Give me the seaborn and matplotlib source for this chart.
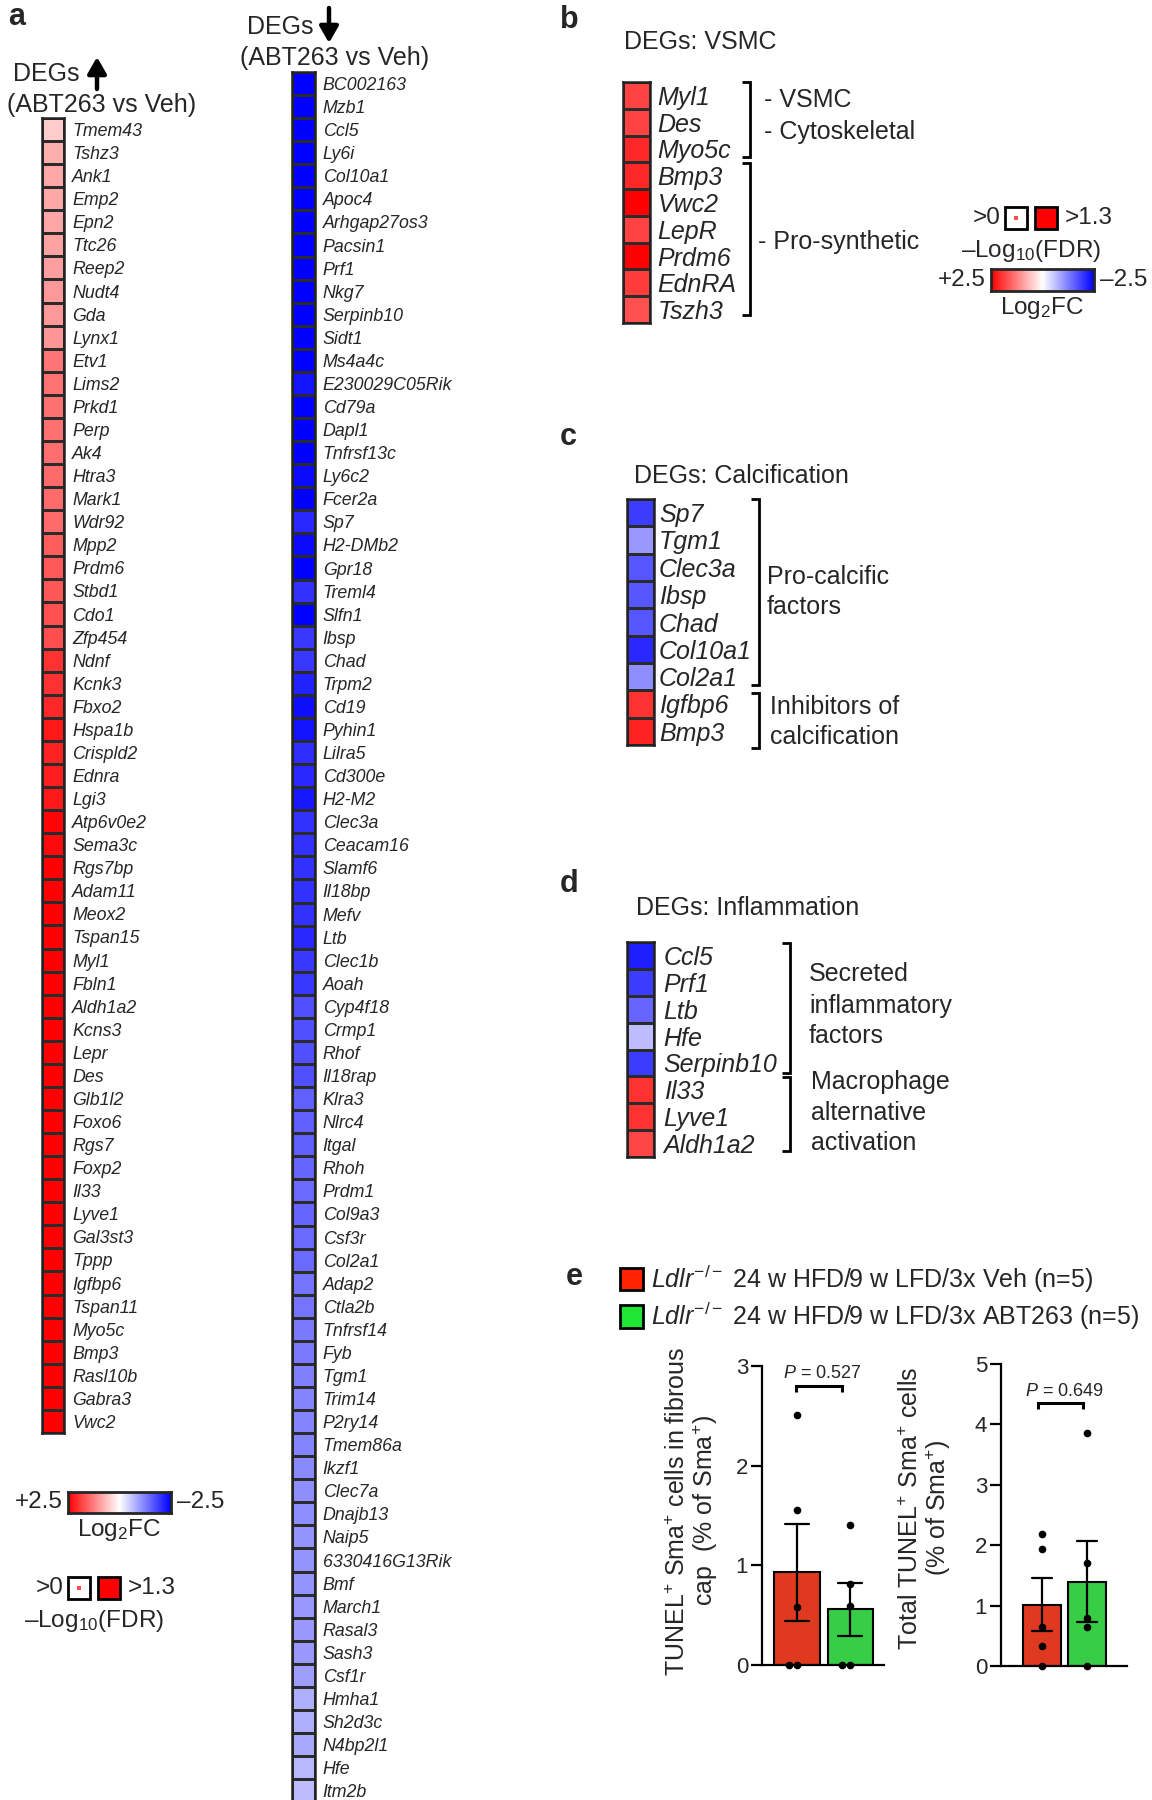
import numpy as np
import pandas as pd
import seaborn as sns
import matplotlib.pyplot as plt
from matplotlib.lines import Line2D
from matplotlib.patches import Rectangle, FancyArrowPatch

W, H = 1152, 1800

# panel a - DEGs up (log2FC, ABT263 vs Veh)
up_genes = ['Tmem43', 'Tshz3', 'Ank1', 'Emp2', 'Epn2', 'Ttc26', 'Reep2', 'Nudt4', 'Gda', 'Lynx1',
            'Etv1', 'Lims2', 'Prkd1', 'Perp', 'Ak4', 'Htra3', 'Mark1', 'Wdr92', 'Mpp2', 'Prdm6',
            'Stbd1', 'Cdo1', 'Zfp454', 'Ndnf', 'Kcnk3', 'Fbxo2', 'Hspa1b', 'Crispld2', 'Ednra', 'Lgi3',
            'Atp6v0e2', 'Sema3c', 'Rgs7bp', 'Adam11', 'Meox2', 'Tspan15', 'Myl1', 'Fbln1', 'Aldh1a2', 'Kcns3',
            'Lepr', 'Des', 'Glb1l2', 'Foxo6', 'Rgs7', 'Foxp2', 'Il33', 'Lyve1', 'Gal3st3', 'Tppp',
            'Igfbp6', 'Tspan11', 'Myo5c', 'Bmp3', 'Rasl10b', 'Gabra3', 'Vwc2']
up_fc = [0.50, 0.80, 0.85, 0.85, 0.87, 0.90, 0.95, 1.00, 1.00, 1.02,
         1.35, 1.38, 1.40, 1.40, 1.42, 1.45, 1.45, 1.45, 1.60, 1.63,
         1.65, 1.70, 1.72, 2.00, 2.00, 2.10, 2.25, 2.15, 2.20, 2.25,
         2.45, 2.40, 2.50, 2.50, 2.50, 2.50, 2.50, 2.50, 2.50, 2.50,
         2.50, 2.50, 2.50, 2.50, 2.50, 2.50, 2.50, 2.50, 2.50, 2.50,
         2.50, 2.50, 2.50, 2.50, 2.50, 2.50, 2.50]

# panel a - DEGs down
down_genes = ['BC002163', 'Mzb1', 'Ccl5', 'Ly6i', 'Col10a1', 'Apoc4', 'Arhgap27os3', 'Pacsin1', 'Prf1', 'Nkg7',
              'Serpinb10', 'Sidt1', 'Ms4a4c', 'E230029C05Rik', 'Cd79a', 'Dapl1', 'Tnfrsf13c', 'Ly6c2', 'Fcer2a', 'Sp7',
              'H2-DMb2', 'Gpr18', 'Treml4', 'Slfn1', 'Ibsp', 'Chad', 'Trpm2', 'Cd19', 'Pyhin1', 'Lilra5',
              'Cd300e', 'H2-M2', 'Clec3a', 'Ceacam16', 'Slamf6', 'Il18bp', 'Mefv', 'Ltb', 'Clec1b', 'Aoah',
              'Cyp4f18', 'Crmp1', 'Rhof', 'Il18rap', 'Klra3', 'Nlrc4', 'Itgal', 'Rhoh', 'Prdm1', 'Col9a3',
              'Csf3r', 'Col2a1', 'Adap2', 'Ctla2b', 'Tnfrsf14', 'Fyb', 'Tgm1', 'Trim14', 'P2ry14', 'Tmem86a',
              'Ikzf1', 'Clec7a', 'Dnajb13', 'Naip5', '6330416G13Rik', 'Bmf', 'March1', 'Rasal3', 'Sash3', 'Csf1r',
              'Hmha1', 'Sh2d3c', 'N4bp2l1', 'Hfe', 'Itm2b']
down_fc = [-2.50, -2.50, -2.50, -2.50, -2.50, -2.50, -2.50, -2.50, -2.50, -2.50,
           -2.50, -2.50, -2.50, -2.30, -2.50, -2.50, -2.50, -2.40, -2.50, -2.10,
           -2.40, -2.50, -2.00, -2.50, -1.95, -1.95, -2.15, -2.35, -2.30, -2.05,
           -2.10, -2.25, -2.00, -2.00, -2.00, -2.00, -2.00, -2.10, -1.95, -1.95,
           -1.70, -1.70, -1.70, -1.70, -1.55, -1.55, -1.55, -1.50, -1.45, -1.50,
           -1.45, -1.45, -1.35, -1.35, -1.30, -1.30, -1.25, -1.20, -1.20, -1.20,
           -1.15, -1.10, -1.10, -1.05, -1.05, -1.05, -1.00, -1.00, -1.00, -0.95,
           -0.80, -0.80, -0.85, -0.70, -0.65]

# panels b, c, d
vsmc_genes = ['Myl1', 'Des', 'Myo5c', 'Bmp3', 'Vwc2', 'LepR', 'Prdm6', 'EdnRA', 'Tszh3']
vsmc_fc = [1.85, 1.85, 2.10, 2.10, 2.50, 1.85, 2.50, 1.90, 1.70]
calc_genes = ['Sp7', 'Tgm1', 'Clec3a', 'Ibsp', 'Chad', 'Col10a1', 'Col2a1', 'Igfbp6', 'Bmp3']
calc_fc = [-1.90, -1.00, -1.65, -1.65, -1.65, -2.10, -1.10, 2.00, 2.15]
infl_genes = ['Ccl5', 'Prf1', 'Ltb', 'Hfe', 'Serpinb10', 'Il33', 'Lyve1', 'Aldh1a2']
infl_fc = [-2.20, -1.90, -1.50, -0.65, -1.90, 2.00, 2.00, 1.80]

# panel e - per-mouse values (% of Sma+)
groups = ['Veh', 'ABT263']
cap_veh = [2.51, 1.56, 0.58, 0.0, 0.0]
cap_abt = [1.40, 0.81, 0.59, 0.0, 0.0]
tot_veh = [2.18, 1.93, 0.65, 0.33, 0.0]
tot_abt = [3.85, 1.70, 0.79, 0.65, 0.0]
bar_colors = {'Veh': '#ff2200', 'ABT263': '#1ee632'}

sns.set_style('white')
plt.rcParams['font.family'] = ['Liberation Sans', 'DejaVu Sans']
plt.rcParams['mathtext.fontset'] = 'custom'
plt.rcParams['mathtext.rm'] = 'Liberation Sans'
plt.rcParams['mathtext.it'] = 'Liberation Sans:italic'
plt.rcParams['mathtext.bf'] = 'Liberation Sans:bold'

fig = plt.figure(figsize=(W / 100, H / 100), dpi=100)

FS = 18  # text size of panels b-e


def px_ax(x0, y0, x1, y1):  # axes from pixel box (top-left origin)
    return fig.add_axes([x0 / W, 1 - y1 / H, (x1 - x0) / W, (y1 - y0) / H])


def ftext(x, y, s, **kw):
    kw.setdefault('va', 'center')
    fig.text(x / W, 1 - y / H, s, **kw)


def fline(xs, ys, lw=1.8):
    fig.add_artist(Line2D([x / W for x in xs], [1 - y / H for y in ys], color='k', lw=lw,
                          solid_joinstyle='miter', solid_capstyle='butt'))


def frect(x0, y0, x1, y1, fc, lw=2.0, ec='k'):
    fig.add_artist(Rectangle((x0 / W, 1 - y1 / H), (x1 - x0) / W, (y1 - y0) / H,
                             transform=fig.transFigure, fc=fc, ec=ec, lw=lw))


def arrow(x, y_tail, y_tip):
    fig.add_artist(FancyArrowPatch((x / W, 1 - y_tail / H), (x / W, 1 - y_tip / H),
                                   transform=fig.transFigure, color='k', lw=3.2,
                                   arrowstyle='-|>,head_length=0.7,head_width=0.4',
                                   mutation_scale=14, shrinkA=0, shrinkB=0))


def heat(genes, fc, box, fs, pad):
    ax = px_ax(*box)
    df = pd.DataFrame({'log2FC': fc}, index=genes)
    sns.heatmap(df, ax=ax, cmap='bwr', vmin=-2.5, vmax=2.5, cbar=False,
                linewidths=1.0, linecolor='#2b2b2b', xticklabels=False, yticklabels=True)
    ax.yaxis.tick_right()
    ax.tick_params(axis='y', length=0, pad=pad, labelsize=fs, labelrotation=0)
    for t in ax.get_yticklabels():
        t.set_style('italic')
    for s in ax.spines.values():
        s.set_visible(True)
        s.set_linewidth(1.8)
        s.set_color('#222222')
    ax.set_xlabel('')
    ax.set_ylabel('')
    return ax


def fc_legend(x0, y0, x1, y1, fs):
    ax = px_ax(x0, y0, x1, y1)
    ax.imshow(np.linspace(2.5, -2.5, 256)[None, :], cmap='bwr', vmin=-2.5, vmax=2.5, aspect='auto')
    ax.set_xticks([])
    ax.set_yticks([])
    for s in ax.spines.values():
        s.set_linewidth(2.0)
    ym = (y0 + y1) / 2
    ftext(x0 - 5, ym, '+2.5', ha='right', fontsize=fs)
    ftext(x1 + 6, ym, '\u20132.5', ha='left', fontsize=fs)
    ftext((x0 + x1) / 2, y1 + 17, 'Log$_2$FC', ha='center', fontsize=fs)


def fdr_legend(bx, y0, size, gap, fs):
    y1 = y0 + size
    frect(bx, y0, bx + size, y1, 'white')
    c = bx + size / 2
    frect(c - 2, y0 + size / 2 - 2, c + 2, y0 + size / 2 + 2, '#ff5050', lw=0, ec='none')
    frect(bx + size + gap, y0, bx + 2 * size + gap, y1, '#ff0000')
    ftext(bx - 4, (y0 + y1) / 2, '>0', ha='right', fontsize=fs)
    ftext(bx + 2 * size + gap + 8, (y0 + y1) / 2, '>1.3', ha='left', fontsize=fs)
    ftext(bx + size + gap / 2, y1 + 22, '\u2013Log$_{10}$(FDR)', ha='center', fontsize=fs)


def bracket(x, y0, y1, tick=8, lw=2.0):
    fline([x - tick, x, x, x - tick], [y0, y0, y1, y1], lw)


def bar_panel(box, veh, abt, ymax, xlim):
    ax = px_ax(*box)
    df = pd.DataFrame({'group': ['Veh'] * len(veh) + ['ABT263'] * len(abt),
                       'value': veh + abt})
    sns.barplot(data=df, x='group', y='value', hue='group', order=groups, hue_order=groups,
                palette=bar_colors, errorbar='se', capsize=0.45, width=0.85,
                edgecolor='k', linewidth=1.5, err_kws={'color': 'k', 'linewidth': 1.6},
                legend=False, ax=ax)
    sns.swarmplot(data=df, x='group', y='value', order=groups, color='k', size=5.5,
                  ax=ax, clip_on=False, zorder=5)
    ax.set_xlim(*xlim)
    ax.set_ylim(0, ymax)
    ax.set_yticks(range(ymax + 1))
    ax.set_xticks([])
    ax.set_xlabel('')
    ax.set_ylabel('')
    sns.despine(ax=ax)
    for s in ['left', 'bottom']:
        ax.spines[s].set_linewidth(1.6)
        ax.spines[s].set_color('k')
    ax.tick_params(axis='y', left=True, length=8, width=1.6, pad=2, labelsize=16, color='k')
    ax.patch.set_alpha(0)
    return ax


# ---------------- panel a ----------------
ftext(8, 25, 'a', fontsize=22, fontweight='bold', va='baseline')
ftext(13, 74, 'DEGs', fontsize=18)
arrow(97, 89, 57)
ftext(7, 105, '(ABT263 vs Veh)', fontsize=18)
ftext(247, 27, 'DEGs', fontsize=18)
arrow(329, 8, 43)
ftext(240, 58, '(ABT263 vs Veh)', fontsize=18)

heat(up_genes, up_fc, (42, 118, 64, 118 + 23.07 * len(up_genes)), 12.8, 6)
heat(down_genes, down_fc, (292, 72, 315, 72 + 23.07 * len(down_genes)), 12.8, 5.5)

fc_legend(68, 1492, 171, 1513, 17.5)
fdr_legend(68, 1577, 22, 8, 17.5)

# ---------------- panel b ----------------
ftext(560, 28, 'b', fontsize=22, fontweight='bold', va='baseline')
ftext(624, 42, 'DEGs: VSMC', fontsize=FS)
heat(vsmc_genes, vsmc_fc, (623, 82, 650, 323), FS, 5.5)
bracket(750, 82, 157)
bracket(750, 163, 315)
ftext(764, 100, '- VSMC', fontsize=FS)
ftext(764, 132, '- Cytoskeletal', fontsize=FS)
ftext(758, 242, '- Pro-synthetic', fontsize=FS)
fdr_legend(1005, 207, 22, 8, 17.5)
fc_legend(991, 269, 1094, 291, 17.5)

# ---------------- panel c ----------------
ftext(560, 445, 'c', fontsize=22, fontweight='bold', va='baseline')
ftext(634, 476, 'DEGs: Calcification', fontsize=FS)
heat(calc_genes, calc_fc, (627, 499, 654, 745), FS, 3.5)
bracket(759, 499, 685)
bracket(759, 693, 748)
ftext(767, 577, 'Pro-calcific', fontsize=FS)
ftext(767, 607, 'factors', fontsize=FS)
ftext(770, 707, 'Inhibitors of', fontsize=FS)
ftext(770, 737, 'calcification', fontsize=FS)

# ---------------- panel d ----------------
ftext(560, 892, 'd', fontsize=22, fontweight='bold', va='baseline')
ftext(636, 908, 'DEGs: Inflammation', fontsize=FS)
heat(infl_genes, infl_fc, (627, 942, 654, 1157), FS, 7)
bracket(790, 943, 1073)
bracket(790, 1077, 1151)
for yy, s in zip([974, 1006, 1036], ['Secreted', 'inflammatory', 'factors']):
    ftext(809, yy, s, fontsize=FS)
for yy, s in zip([1082, 1113, 1143], ['Macrophage', 'alternative', 'activation']):
    ftext(811, yy, s, fontsize=FS)

# ---------------- panel e ----------------
ftext(566, 1285, 'e', fontsize=22, fontweight='bold', va='baseline')
frect(620, 1268, 643, 1290, bar_colors['Veh'])
frect(620, 1305, 643, 1328, bar_colors['ABT263'])
ftext(651, 1279, r'$\mathit{Ldlr}^{\mathregular{-/-}}$' + ' 24 w HFD/9 w LFD/3x Veh (n=5)', fontsize=FS)
ftext(651, 1316, r'$\mathit{Ldlr}^{\mathregular{-/-}}$' + ' 24 w HFD/9 w LFD/3x ABT263 (n=5)', fontsize=FS)

bar_panel((762, 1366, 884, 1665), cap_veh, cap_abt, 3, (-0.66, 1.64))
ftext(693, 1511, r'$\mathregular{TUNEL^{+}\ Sma^{+}}$ cells in fibrous' + '\n' +
      r'cap  (% of $\mathregular{Sma^{+}}$)', fontsize=FS,
      rotation=90, ha='center', multialignment='center', linespacing=1.05)
fline([796, 796, 842, 842], [1392, 1386, 1386, 1392], lw=2.2)
ftext(822, 1374, r'$\mathit{P}$ = 0.527', ha='center', fontsize=13)

bar_panel((1001, 1364, 1127, 1666), tot_veh, tot_abt, 5, (-0.91, 1.89))
ftext(926, 1508, r'Total $\mathregular{TUNEL^{+}\ Sma^{+}}$ cells' + '\n' +
      r'(% of $\mathregular{Sma^{+}}$)', fontsize=FS,
      rotation=90, ha='center', multialignment='center', linespacing=1.05)
fline([1038, 1038, 1083, 1083], [1409, 1403, 1403, 1409], lw=2.2)
ftext(1064, 1391, r'$\mathit{P}$ = 0.649', ha='center', fontsize=13)

fig.savefig('out.png', dpi=100)
